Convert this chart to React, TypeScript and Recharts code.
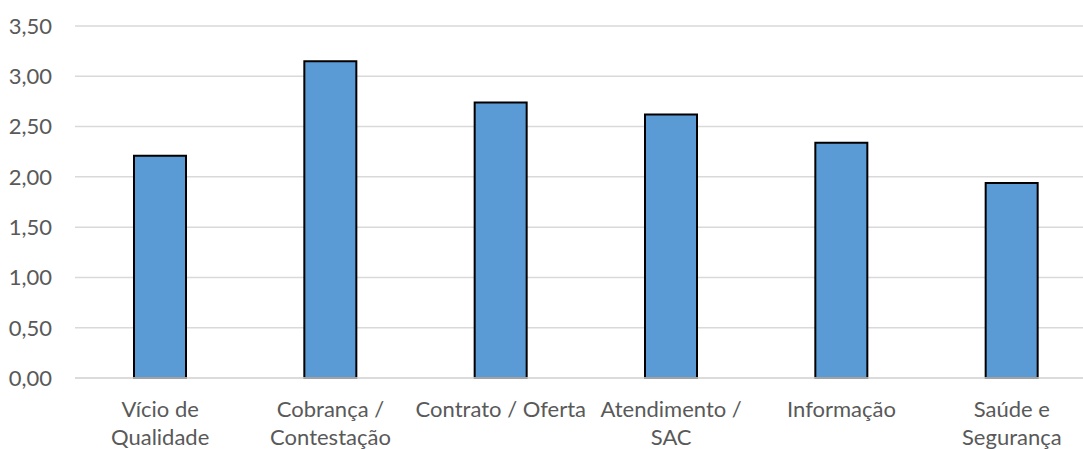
import React from 'react';
import { BarChart, Bar, XAxis, YAxis, CartesianGrid } from 'recharts';

// Complaint categories (line breaks follow the wrapped axis labels)
const categories = [
  'Vício de\nQualidade',
  'Cobrança /\nContestação',
  'Contrato / Oferta',
  'Atendimento /\nSAC',
  'Informação',
  'Saúde e\nSegurança',
];

const scores = [2.21, 3.15, 2.74, 2.62, 2.34, 1.94];

const yTicks = [0, 0.5, 1, 1.5, 2, 2.5, 3, 3.5];

const data = categories.map((name, i) => ({ name, value: scores[i] }));

const TEXT_COLOR = '#595959';
const GRID_COLOR = '#d9d9d9';
const BAR_COLOR = '#5b9bd5';
const FONT = 'Lato, "Open Sans", sans-serif';
const PLOT_BOTTOM = 378;

const formatComma = (v: number) => v.toFixed(2).replace('.', ',');

// Multi-line category label, baselines measured from the bottom of the plot
function CategoryTick({ x, payload }: any) {
  const lines = String(payload.value).split('\n');
  return (
    <text
      x={x}
      y={PLOT_BOTTOM}
      textAnchor="middle"
      fill={TEXT_COLOR}
      fontSize={22}
      fontFamily={FONT}
    >
      {lines.map((line, i) => (
        <tspan key={i} x={x} dy={i === 0 ? 39 : 28}>
          {line}
        </tspan>
      ))}
    </text>
  );
}

export default function App() {
  return (
    <div
      style={{
        position: 'absolute',
        left: 0,
        top: 0,
        width: 1083,
        height: 449,
        overflow: 'hidden',
        background: '#fff',
      }}
    >
      <BarChart
        width={1097}
        height={449}
        data={data}
        margin={{ top: 26, right: 0, bottom: 0, left: 0 }}
      >
        <CartesianGrid vertical={false} stroke={GRID_COLOR} strokeWidth={1.5} />
        <XAxis
          dataKey="name"
          height={71}
          axisLine={{ stroke: GRID_COLOR, strokeWidth: 1.5 }}
          tickLine={false}
          interval={0}
          tick={<CategoryTick />}
        />
        <YAxis
          width={75}
          domain={[0, 3.5]}
          ticks={yTicks}
          tickFormatter={formatComma}
          axisLine={false}
          tickLine={false}
          tickSize={0}
          tickMargin={23}
          tick={{ fill: TEXT_COLOR, fontSize: 22, fontFamily: FONT }}
        />
        <Bar
          dataKey="value"
          fill={BAR_COLOR}
          stroke="#000"
          strokeWidth={2}
          barSize={52}
          isAnimationActive={false}
        />
      </BarChart>
    </div>
  );
}
